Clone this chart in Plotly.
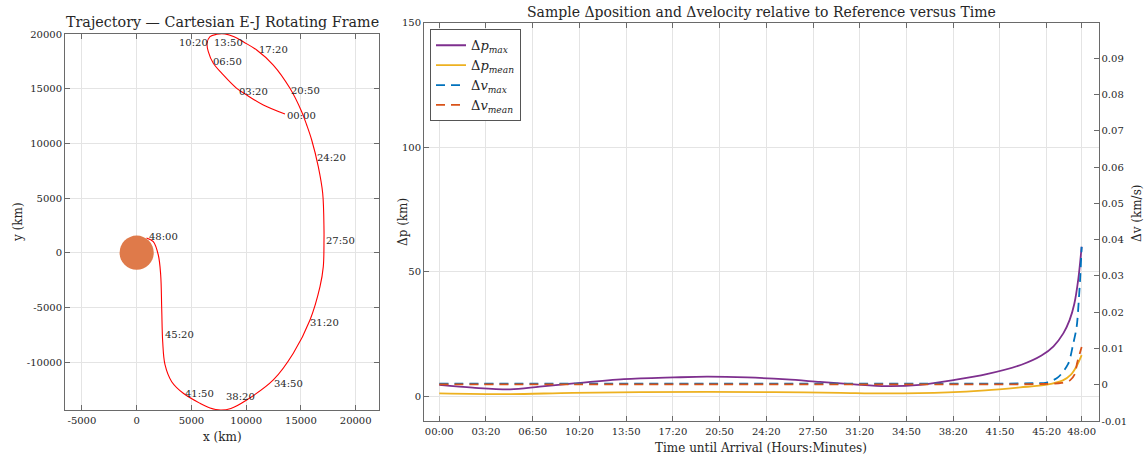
import plotly.graph_objects as go

W, H = 1148, 456
FONT = "DejaVu Serif"
INK = "#262626"
AXIS = "#6a6a6a"
GRID = "#e4e4e4"

# ---------------- Trajectory in the Europa-Jupiter rotating frame (km) ----------------
traj_x = [13545, 11564, 10048, 9135, 7911, 6998, 6541, 6430, 6697, 7308, 8066, 8900, 9800,
          10961, 12477, 14001, 15070, 15527, 15984, 16586, 16988, 17107, 17107, 17043,
          16742, 15829, 14304, 12478, 10048, 8600, 7650, 6700, 5784, 4258, 3199, 2587,
          2377, 2286, 2194, 1975, 1519, 900]
traj_y = [12680, 13506, 14420, 15033, 16257, 17320, 18381, 19149, 19752, 19972, 20000, 19750, 19250,
          18536, 17164, 15033, 12893, 11677, 10305, 7865, 5430, 2074, 1159, -1280,
          -3110, -6157, -9203, -11644, -13473, -14250, -14390, -14200, -13777, -12862, -11801, -10247,
          -8143, -5088, -2042, -213, 1003, 1350]

label_text = ["00:00", "03:20", "06:50", "10:20", "13:50", "17:20", "20:50", "24:20",
              "27:50", "31:20", "34:50", "38:20", "41:50", "45:20", "48:00"]
label_x = [13545, 9135, 6788, 3653, 6880, 10961, 13883, 16285,
           17107, 15675, 12331, 8003, 4204, 2374, 916]
label_y = [12526, 14722, 17529, 19204, 19204, 18628, 14814, 8686,
           1159, -6368, -11947, -13173, -12862, -7470, 1461]

EUROPA_R = 1561  # km

traj_xticks = [-5000, 0, 5000, 10000, 15000, 20000]
traj_xticktext = ["-5000", "0", "5000", "10000", "15000", "20000"]
traj_yticks = [-10000, -5000, 0, 5000, 10000, 15000, 20000]
traj_yticktext = ["-10000", "-5000", "0", "5000", "10000", "15000", "20000"]

# ---------------- Position / velocity differences versus time (hours) ----------------
t_pmax = [0, 2.5, 5.3, 7.5, 10.06, 13.8, 17.54, 20.0, 23.0, 25.96, 28.45, 31.0, 33.43,
          35.92, 38.41, 40.9, 43.5, 45.0, 45.9, 46.63, 47.1, 47.45, 47.75, 48.0]
dp_max = [4.5, 3.4, 2.7, 3.8, 5.1, 6.8, 7.5, 7.8, 7.5, 6.7, 5.7, 4.7, 4.0,
          4.5, 6.4, 8.8, 12.6, 16.3, 20.0, 25.2, 30.5, 37.0, 47.0, 60.0]

t_pmean = [0, 5.3, 10.0, 20.0, 25.0, 30.0, 33.4, 38.0, 40.8, 43.4, 45.4, 46.6, 47.2, 47.6, 48.0]
dp_mean = [1.1, 0.8, 1.3, 1.7, 1.6, 1.3, 1.1, 1.5, 2.3, 3.5, 4.6, 6.3, 8.6, 11.8, 16.5]

t_vmax = [0, 10, 20, 30, 40, 44.4, 45.4, 46.25, 47.0, 47.37, 47.63, 47.8, 47.9, 48.0]
dv_max = [0.0003, 0.0003, 0.0003, 0.0003, 0.0003, 0.0004, 0.0006, 0.0021, 0.0058,
          0.0113, 0.016, 0.024, 0.030, 0.038]

t_vmean = [0, 10, 20, 30, 40, 45, 46.5, 47.13, 47.5, 47.65, 48.0]
dv_mean = [0.0001, 0.0001, 0.0001, 0.0001, 0.0001, 0.0002, 0.0005, 0.0012, 0.003, 0.0058, 0.0104]

time_ticktext = ["00:00", "03:20", "06:50", "10:20", "13:50", "17:20", "20:50", "24:20",
                 "27:50", "31:20", "34:50", "38:20", "41:50", "45:20", "48:00"]
TICK_STEP_H = 48 / 13.75
time_tickvals = [i * TICK_STEP_H for i in range(14)] + [48.0]

dp_ticks = [0, 50, 100, 150]
dp_ticktext = ["0", "50", "100", "150"]
dv_ticks = [-0.01, 0, 0.01, 0.02, 0.03, 0.04, 0.05, 0.06, 0.07, 0.08, 0.09]
dv_ticktext = ["-0.01", "0", "0.01", "0.02", "0.03", "0.04", "0.05", "0.06", "0.07", "0.08", "0.09"]


def px(x):
    return x / W


def py(y):
    return 1 - y / H


fig = go.Figure()

fig.add_trace(go.Scatter(x=traj_x, y=traj_y, mode="lines", xaxis="x", yaxis="y",
                         line=dict(color="#ff0000", width=1.1, shape="spline", smoothing=1.0),
                         showlegend=False, hoverinfo="skip"))

C_PMAX, C_PMEAN, C_VMAX, C_VMEAN = "#7E2F8E", "#EDB120", "#0072BD", "#D95319"

fig.add_trace(go.Scatter(x=t_pmax, y=dp_max, mode="lines", xaxis="x2", yaxis="y2",
                         name="Δ<i>p</i><sub><i>max</i></sub>",
                         line=dict(color=C_PMAX, width=1.8, shape="spline", smoothing=0.9)))
fig.add_trace(go.Scatter(x=t_pmean, y=dp_mean, mode="lines", xaxis="x2", yaxis="y2",
                         name="Δ<i>p</i><sub><i>mean</i></sub>",
                         line=dict(color=C_PMEAN, width=1.8, shape="spline", smoothing=0.9)))
fig.add_trace(go.Scatter(x=t_vmax, y=dv_max, mode="lines", xaxis="x2", yaxis="y3",
                         name="Δ<i>v</i><sub><i>max</i></sub>",
                         line=dict(color=C_VMAX, width=1.8, dash="9px,6px", shape="spline", smoothing=0.8)))
fig.add_trace(go.Scatter(x=t_vmean, y=dv_mean, mode="lines", xaxis="x2", yaxis="y3",
                         name="Δ<i>v</i><sub><i>mean</i></sub>",
                         line=dict(color=C_VMEAN, width=1.8, dash="9px,6px", shape="spline", smoothing=0.8)))

axis_common = dict(showline=True, linecolor=AXIS, linewidth=1, ticks="inside", ticklen=5,
                   tickcolor=AXIS, gridcolor=GRID, gridwidth=1, zeroline=False,
                   automargin=False,
                   tickfont=dict(family=FONT, size=10, color=INK))

annotations = []
for txt, lx, ly in zip(label_text, label_x, label_y):
    annotations.append(dict(x=lx, y=ly, xref="x", yref="y", text=txt, showarrow=False,
                            xanchor="left", yanchor="middle",
                            font=dict(family=FONT, size=10, color=INK)))


def note(text, x, y, size, angle=0):
    annotations.append(dict(x=px(x), y=py(y), xref="paper", yref="paper", text=text,
                            showarrow=False, xanchor="center", yanchor="middle",
                            textangle=angle, font=dict(family=FONT, size=size, color=INK)))


note("Trajectory — Cartesian E-J Rotating Frame", 222, 22, 14.3)
note("x (km)", 222, 437, 12)
note("y (km)", 18, 222, 12, -90)
note("Sample Δposition and Δvelocity relative to Reference versus Time", 761, 12, 14)
note("Time until Arrival (Hours:Minutes)", 761, 448, 12)
note("Δp (km)", 403, 222, 12, -90)
note("Δv (km/s)", 1137, 214, 12, -90)

fig.update_layout(
    width=W, height=H, autosize=False,
    margin=dict(l=0, r=0, t=0, b=0, pad=0, autoexpand=False),
    paper_bgcolor="white", plot_bgcolor="white",
    font=dict(family=FONT, color=INK),
    xaxis=dict(domain=[px(65), px(379)], range=[-6545, 22130], anchor="y",
               tickvals=traj_xticks, ticktext=traj_xticktext, mirror="ticks",
               ticklabelstandoff=1, **axis_common),
    yaxis=dict(domain=[py(410), py(34)], range=[-14390, 20000], anchor="x",
               tickvals=traj_yticks, ticktext=traj_yticktext, mirror="ticks", **axis_common),
    xaxis2=dict(domain=[px(424), px(1098.5)], range=[-1.14, 49.26], anchor="y2",
                tickvals=time_tickvals, ticktext=time_ticktext, mirror="ticks",
                ticklabelstandoff=1, **axis_common),
    yaxis2=dict(domain=[py(421), py(22.7)], range=[-10, 150], anchor="x2",
                tickvals=dp_ticks, ticktext=dp_ticktext, **axis_common),
    yaxis3=dict(overlaying="y2", side="right", anchor="x2", range=[-0.01, 0.0998],
                tickvals=dv_ticks, ticktext=dv_ticktext,
                **{**axis_common, "gridcolor": "rgba(0,0,0,0)"}, showgrid=False),
    legend=dict(x=px(430), y=py(29.3), xanchor="left", yanchor="top",
                bgcolor="white", bordercolor="#555555", borderwidth=1,
                font=dict(family=FONT, size=13, color=INK),
                tracegroupgap=0, itemwidth=30),
    shapes=[dict(type="circle", xref="x", yref="y", x0=-EUROPA_R, x1=EUROPA_R,
                 y0=-EUROPA_R, y1=EUROPA_R, fillcolor="#DF7A4A", line=dict(width=0),
                 layer="above")],
    annotations=annotations,
)

fig.write_html("out.html")
